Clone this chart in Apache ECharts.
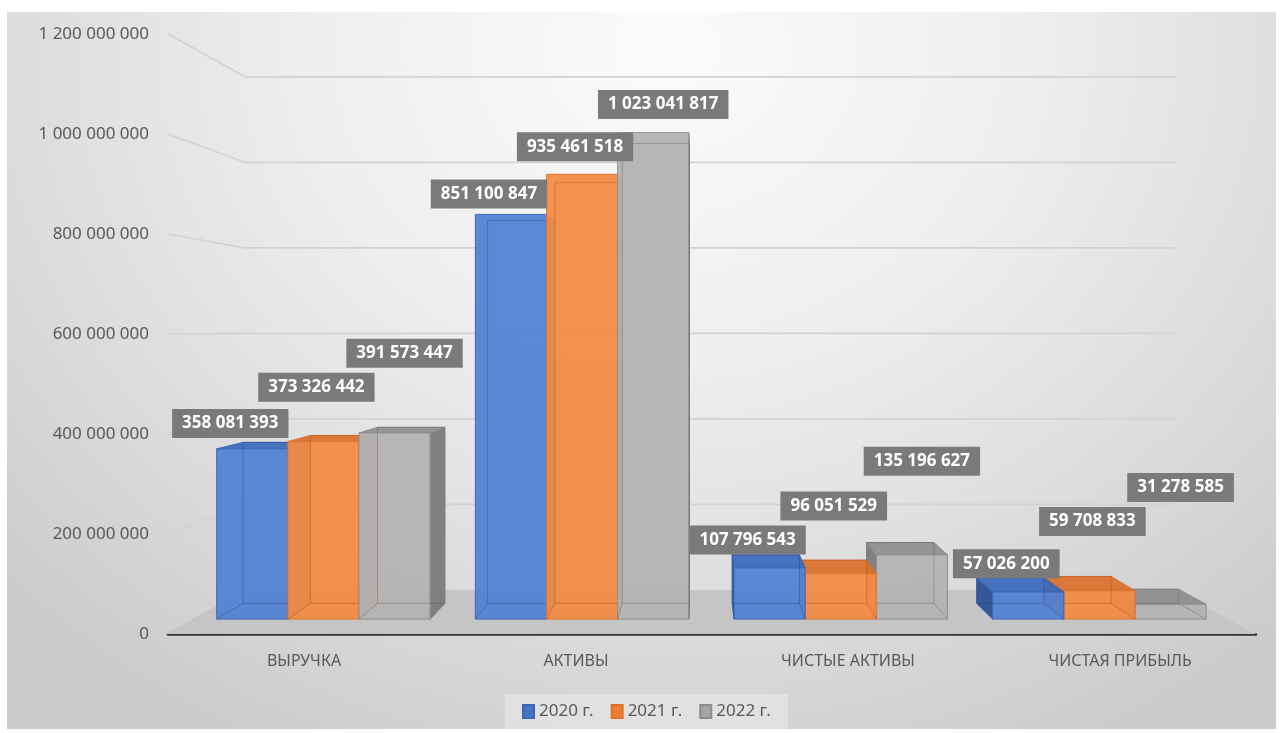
<!DOCTYPE html>
<html>
<head>
<meta charset="utf-8">
<script src="https://cdn.jsdelivr.net/npm/echarts@6/dist/echarts.min.js"></script>
<style>
html,body{margin:0;padding:0;background:#ffffff;}
#bg{position:absolute;left:7px;top:12px;width:1269px;height:717px;
  background:radial-gradient(ellipse 72% 110% at 52% 5%, #fbfbfb 0%, #eeeeee 40%, #dcdcdc 72%, #cbcbcb 100%);}
#c{position:absolute;left:0;top:0;width:1283px;height:733px;}
</style>
</head>
<body>
<div id="bg"></div>
<div id="c"></div>
<script>
// ---------- data ----------
const categories = ['ВЫРУЧКА', 'АКТИВЫ', 'ЧИСТЫЕ АКТИВЫ', 'ЧИСТАЯ ПРИБЫЛЬ'];
const seriesNames = ['2020 г.', '2021 г.', '2022 г.'];
const values2020 = [358081393, 851100847, 107796543, 57026200];
const values2021 = [373326442, 935461518, 96051529, 59708833];
const values2022 = [391573447, 1023041817, 135196627, 31278585];
const yTicks = [0, 200000000, 400000000, 600000000, 800000000, 1000000000, 1200000000];

const allValues = [values2020, values2021, values2022];

// ---------- style / projection ----------
const VX = 700, VY = 330;            // vanishing point
const R_FRONT = 0.951, R_BACK = 0.899, R_WALL = 0.855;
const BAR_FRAC = 0.275;
const LABEL_H = 29;
const legendColors = ['#4472C4', '#ED7D31', '#A5A5A5'];
const faces = [
  {front: '#5383d4', top: '#3e6bbd', side: '#2d5095', edge: '#3a66b5', hidden: 'rgba(35,65,135,0.40)'},
  {front: '#f28b46', top: '#d9732f', side: '#b85a1b', edge: '#de7229', hidden: 'rgba(160,75,20,0.40)'},
  {front: '#b3b3b3', top: '#8f8f8f', side: '#7b7b7b', edge: '#8c8c8c', hidden: 'rgba(90,90,90,0.38)'}
];
const labelStyle = [
  {dx: -22, lift: 28.8, k: 0.979},
  {dx: -7, lift: 72.0, k: 0.900},
  {dx: 10, lift: 103.6, k: 0.845}
];

function proj(x, y, r) { return [VX + (x - VX) * r, VY + (y - VY) * r]; }
function fmt(v) { return String(v).replace(/\B(?=(\d{3})+(?!\d))/g, ' '); }

function barGeom(api, c, s, v) {
  const base = api.coord([c, 0]);
  const band = api.size([1, 0])[0];
  const bw = band * BAR_FRAC;
  const xl = base[0] + (s - 1.5) * bw, xr = xl + bw;
  const y0 = base[1], y1 = api.coord([c, v])[1];
  return {
    FBL: proj(xl, y0, R_FRONT), FBR: proj(xr, y0, R_FRONT),
    FTL: proj(xl, y1, R_FRONT), FTR: proj(xr, y1, R_FRONT),
    BBL: proj(xl, y0, R_BACK), BBR: proj(xr, y0, R_BACK),
    BTL: proj(xl, y1, R_BACK), BTR: proj(xr, y1, R_BACK)
  };
}

function labelCenters(api, c) {
  const out = [];
  for (let s = 0; s < 3; s++) {
    const v = allValues[s][c];
    const g = barGeom(api, c, s, v);
    const cx = (g.FBL[0] + g.FBR[0]) / 2 + labelStyle[s].dx;
    const h = g.FBL[1] - g.FTL[1];
    let cy = g.FBL[1] - labelStyle[s].lift - h * labelStyle[s].k;
    const w = fmt(v).length * 8.8 + 20;
    for (let j = 0; j < s; j++) {
      const o = out[j];
      if (Math.abs(cx - o.x) < (w + o.w) / 2 && Math.abs(cy - o.y) < LABEL_H + 4) {
        cy = Math.min(cy, o.y - LABEL_H - 5);
      }
    }
    out.push({x: cx, y: cy, w: w});
  }
  return out;
}

function poly(points, fill, stroke, z2) {
  return {type: 'polygon', z2: z2, shape: {points: points},
    style: {fill: fill, stroke: stroke, lineWidth: 1, opacity: 0.95}};
}
function line(a, b, stroke, z2) {
  return {type: 'line', z2: z2, shape: {x1: a[0], y1: a[1], x2: b[0], y2: b[1]},
    style: {stroke: stroke, lineWidth: 1}};
}

function makeRender(s) {
  return function (params, api) {
    const c = api.value(0), v = api.value(1);
    const g = barGeom(api, c, s, v);
    const col = faces[s];
    const dist = Math.abs((g.FBL[0] + g.FBR[0]) / 2 - VX);
    const base = Math.round(2000 - dist) * 10;
    const children = [];
    if (g.FBR[0] < VX) children.push(poly([g.FTR, g.BTR, g.BBR, g.FBR], col.side, col.edge, base + 1));
    if (g.FBL[0] > VX) children.push(poly([g.FTL, g.BTL, g.BBL, g.FBL], col.side, col.edge, base + 1));
    if (g.FTL[1] > VY) children.push(poly([g.FTL, g.FTR, g.BTR, g.BTL], col.top, col.edge, base + 2));
    children.push(poly([g.FTL, g.FTR, g.FBR, g.FBL], col.front, col.edge, base + 3));
    [[g.BBL, g.BBR], [g.BBL, g.BTL], [g.BBR, g.BTR], [g.FBL, g.BBL], [g.FBR, g.BBR], [g.BTL, g.BTR]]
      .forEach(function (p) { children.push(line(p[0], p[1], col.hidden, base + 5)); });
    const L = labelCenters(api, c)[s];
    children.push({
      type: 'text', z2: 1000000, x: L.x, y: L.y,
      style: {
        text: fmt(v), fill: '#ffffff', font: 'bold 17px "Noto Sans"',
        align: 'center', verticalAlign: 'middle',
        backgroundColor: '#7a7a7a', padding: [6, 10]
      }
    });
    return {type: 'group', children: children};
  };
}

function renderWalls(params, api) {
  const t = api.value(1);
  const cs = params.coordSys;
  const xL = cs.x, xR = cs.x + cs.width;
  const y = api.coord([0, t])[1];
  if (t === 0) {
    return {type: 'polygon', shape: {points: [[xL - 3, y], [xR, y], proj(xR, y, R_WALL), proj(xL, y, R_WALL)]},
      style: {fill: '#c5c5c5', stroke: null}};
  }
  return {type: 'polyline', shape: {points: [[xL, y], proj(xL, y, R_WALL), proj(xR, y, R_WALL)]},
    style: {stroke: '#d2d2d2', lineWidth: 1.6, fill: null}};
}

const chart = echarts.init(document.getElementById('c'), null, {renderer: 'canvas'});
const series = [{
  type: 'custom', name: '_walls', z: 1, silent: true,
  data: yTicks.map(function (t) { return [0, t]; }),
  encode: {x: 0, y: 1},
  renderItem: renderWalls
}];
for (let s = 0; s < 3; s++) {
  series.push({
    type: 'custom', name: seriesNames[s], z: 2, silent: true,
    itemStyle: {color: legendColors[s], borderColor: faces[s].edge, borderWidth: 1},
    data: allValues[s].map(function (v, i) { return [i, v]; }),
    encode: {x: 0, y: 1},
    renderItem: makeRender(s)
  });
}

chart.setOption({
  animation: false,
  backgroundColor: 'transparent',
  textStyle: {fontFamily: '"Noto Sans", sans-serif'},
  grid: {left: 168, right: 27, top: 34, bottom: 99},
  xAxis: {
    type: 'category', data: categories,
    axisTick: {show: false},
    axisLine: {show: true, lineStyle: {color: '#333333', width: 2.5}},
    axisLabel: {color: '#595959', fontSize: 16, margin: 19, fontFamily: 'Noto Sans'}
  },
  yAxis: {
    type: 'value', min: 0, max: 1200000000, interval: 200000000,
    splitLine: {show: false}, axisLine: {show: false}, axisTick: {show: false},
    axisLabel: {color: '#595959', fontSize: 17, margin: 19, fontFamily: 'Noto Sans', formatter: fmt}
  },
  legend: {
    data: seriesNames, left: 505, top: 694,
    icon: 'rect', itemWidth: 11, itemHeight: 13, itemGap: 17,
    padding: [9, 17, 9, 17],
    backgroundColor: 'rgba(255,255,255,0.3)',
    selectedMode: false,
    textStyle: {color: '#595959', fontSize: 17, fontFamily: 'Noto Sans'}
  },
  series: series
});
</script>
</body>
</html>
